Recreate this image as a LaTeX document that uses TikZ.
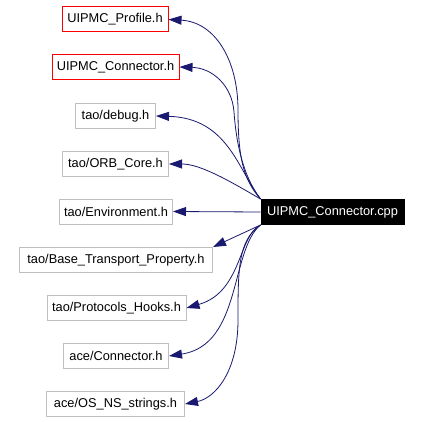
\documentclass[tikz,border=0pt]{standalone}
\usepackage{fontspec}
\setmainfont{Liberation Sans}
\usetikzlibrary{arrows.meta}
\definecolor{edgeblue}{RGB}{25,25,112}
\definecolor{boxgrey}{RGB}{191,191,191}
\begin{document}
\begin{tikzpicture}[x=1pt,y=-1pt,
  every node/.style={font=\fontsize{12.8}{15}\selectfont, inner sep=0pt, minimum height=25pt, line width=1pt},
  file/.style={draw=boxgrey, fill=white},
  redfile/.style={draw=red, fill=white},
  main/.style={draw=black, fill=black, text=white},
  dep/.style={draw=edgeblue, line width=0.8pt, -{Triangle[length=13pt,width=9pt]}}]
\useasboundingbox (0,0) rectangle (422,422);
\fill[white] (0,0) rectangle (422,422);
\node[redfile, minimum width=106pt] (profile) at (115,19.5) {UIPMC\_Profile.h};
\node[redfile, minimum width=127pt] (connh) at (115.5,67) {UIPMC\_Connector.h};
\node[file, minimum width=80pt] (debug) at (115.5,116) {tao/debug.h};
\node[file, minimum width=106pt] (orb) at (115.5,164) {tao/ORB\_Core.h};
\node[file, minimum width=113pt] (env) at (116,211.5) {tao/Environment.h};
\node[file, minimum width=193pt] (base) at (116,260) {tao/Base\_Transport\_Property.h};
\node[file, minimum width=139pt] (proto) at (116.5,308) {tao/Protocols\_Hooks.h};
\node[file, minimum width=105pt] (acec) at (116,356) {ace/Connector.h};
\node[file, minimum width=138pt] (os) at (115.5,404) {ace/OS\_NS\_strings.h};
\node[main, minimum width=143pt] (cpp) at (332.5,212) {UIPMC\_Connector.cpp};

\draw[dep] (cpp.north west) .. controls (244,180) and (238,160) .. (238,110)
  .. controls (238,60) and (215,22) .. (profile.east);
\draw[dep] (cpp.north west) .. controls (242,175) and (236,140) .. (234,112)
  .. controls (232,85) and (212,68) .. (connh.east);
\draw[dep] (cpp.north west) .. controls (238,170) and (228,118) .. (debug.east);
\draw[dep] (cpp.north west) .. controls (228,180) and (200,164) .. (orb.east);
\draw[dep] (cpp.west) -- (env.east);
\draw[dep] (cpp.south west) -- (base.north east);
\draw[dep] (cpp.south west) .. controls (238,236) and (242,292) .. (proto.east);
\draw[dep] (cpp.south west) .. controls (230,250) and (242,345) .. (acec.east);
\draw[dep] (cpp.south west) .. controls (238,240) and (238,270) .. (238,320)
  .. controls (238,372) and (215,398) .. (os.east);
\end{tikzpicture}
\end{document}
